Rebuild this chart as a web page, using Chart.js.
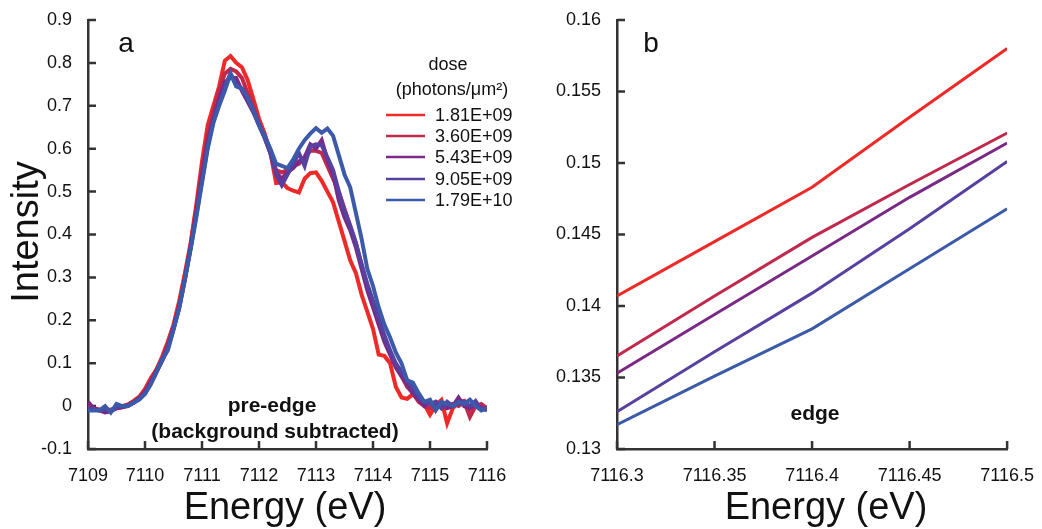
<!DOCTYPE html>
<html>
<head>
<meta charset="utf-8">
<script src="https://cdn.jsdelivr.net/npm/chart.js@4"></script>
<style>
  html, body { margin: 0; padding: 0; background: #fff; }
  #wrap { position: relative; width: 1042px; height: 529px; }
  canvas { position: absolute; top: 0; }
</style>
</head>
<body>
<div id="wrap">
  <canvas id="left" width="540" height="529" style="left:0"></canvas>
  <canvas id="right" width="502" height="529" style="left:540px"></canvas>
</div>
<script>
// legend labels and colours
const doses = ["1.81E+09", "3.60E+09", "5.43E+09", "9.05E+09", "1.79E+10"];
const colors = ["#ee2a28", "#c0284c", "#7a2a84", "#5840a0", "#3c5aaa"];

// panel a: pre-edge, energy grid (eV)
const energyA = [
  7109.0, 7109.1, 7109.2, 7109.3, 7109.4, 7109.5, 7109.6, 7109.7, 7109.8, 7109.9,
  7110.0, 7110.1, 7110.2, 7110.3, 7110.4, 7110.5, 7110.6, 7110.7, 7110.8, 7110.9,
  7111.0, 7111.1, 7111.2, 7111.3, 7111.4, 7111.5, 7111.6, 7111.7, 7111.8, 7111.9,
  7112.0, 7112.1, 7112.2, 7112.3, 7112.4, 7112.5, 7112.6, 7112.7, 7112.8, 7112.9,
  7113.0, 7113.1, 7113.2, 7113.3, 7113.4, 7113.5, 7113.6, 7113.7, 7113.8, 7113.9,
  7114.0, 7114.1, 7114.2, 7114.3, 7114.4, 7114.5, 7114.6, 7114.7, 7114.8, 7114.9,
  7115.0, 7115.1, 7115.2, 7115.3, 7115.4, 7115.5, 7115.6, 7115.7, 7115.8, 7115.9,
  7116.0
];
const pre1 = [
  0.000, -0.005, -0.008, -0.010, -0.008, -0.004, 0.000, 0.004, 0.012, 0.022,
  0.040, 0.065, 0.085, 0.115, 0.150, 0.190, 0.245, 0.310, 0.380, 0.470,
  0.570, 0.655, 0.700, 0.745, 0.805, 0.816, 0.800, 0.790, 0.760, 0.716,
  0.670, 0.635, 0.590, 0.520, 0.522, 0.508, 0.502, 0.498, 0.530, 0.543,
  0.545, 0.525, 0.500, 0.475, 0.430, 0.385, 0.340, 0.310, 0.260, 0.220,
  0.180, 0.120, 0.117, 0.100, 0.045, 0.020, 0.017, 0.028, 0.014, 0.004,
  -0.020, 0.002, 0.014, -0.040, -0.005, 0.010, 0.012, -0.010, 0.002, -0.002,
  -0.008
];
const pre2 = [
  0.000, -0.008, -0.010, -0.012, -0.010, -0.005, -0.002, 0.002, 0.010, 0.020,
  0.035, 0.060, 0.085, 0.110, 0.145, 0.185, 0.235, 0.300, 0.375, 0.460,
  0.550, 0.630, 0.685, 0.735, 0.775, 0.786, 0.780, 0.765, 0.730, 0.700,
  0.660, 0.630, 0.595, 0.550, 0.545, 0.550, 0.560, 0.565, 0.580, 0.595,
  0.595, 0.590, 0.560, 0.530, 0.500, 0.460, 0.420, 0.380, 0.330, 0.280,
  0.240, 0.200, 0.160, 0.125, 0.095, 0.070, 0.045, 0.030, 0.010, 0.000,
  -0.005, 0.010, 0.005, 0.000, 0.005, 0.000, 0.010, -0.025, 0.000, 0.005,
  -0.005
];
const pre3 = [
  0.010, -0.005, -0.010, -0.015, -0.012, -0.005, -0.003, 0.000, 0.008, 0.018,
  0.032, 0.055, 0.080, 0.105, 0.135, 0.180, 0.230, 0.295, 0.370, 0.450,
  0.535, 0.615, 0.670, 0.715, 0.755, 0.765, 0.765, 0.735, 0.710, 0.685,
  0.655, 0.625, 0.590, 0.545, 0.530, 0.545, 0.555, 0.570, 0.580, 0.610,
  0.600, 0.620, 0.575, 0.540, 0.480, 0.440, 0.410, 0.370, 0.320, 0.270,
  0.230, 0.190, 0.150, 0.120, 0.090, 0.070, 0.050, 0.030, 0.015, 0.000,
  0.010, 0.000, 0.005, -0.005, 0.000, 0.020, 0.000, -0.005, 0.005, -0.005,
  -0.010
];
const pre4 = [
  -0.005, -0.008, -0.010, -0.008, -0.012, -0.003, 0.000, 0.002, 0.008, 0.018,
  0.030, 0.052, 0.080, 0.108, 0.135, 0.180, 0.230, 0.298, 0.368, 0.445,
  0.525, 0.605, 0.665, 0.705, 0.745, 0.775, 0.750, 0.740, 0.715, 0.690,
  0.655, 0.625, 0.590, 0.540, 0.515, 0.540, 0.565, 0.590, 0.560, 0.605,
  0.610, 0.608, 0.580, 0.550, 0.500, 0.455, 0.420, 0.380, 0.330, 0.285,
  0.245, 0.205, 0.165, 0.130, 0.100, 0.080, 0.060, 0.040, 0.020, 0.010,
  0.005, 0.010, -0.005, 0.010, 0.000, 0.005, 0.010, 0.000, 0.012, -0.008,
  -0.005
];
const pre5 = [
  -0.010, -0.010, -0.010, 0.000, -0.015, 0.005, 0.000, 0.000, 0.008, 0.015,
  0.028, 0.050, 0.078, 0.108, 0.130, 0.178, 0.228, 0.295, 0.365, 0.440,
  0.520, 0.600, 0.660, 0.700, 0.735, 0.775, 0.745, 0.740, 0.720, 0.690,
  0.655, 0.630, 0.600, 0.565, 0.560, 0.555, 0.575, 0.600, 0.620, 0.635,
  0.648, 0.637, 0.647, 0.630, 0.585, 0.540, 0.510, 0.450, 0.390, 0.320,
  0.280, 0.230, 0.190, 0.160, 0.125, 0.100, 0.060, 0.055, 0.030, 0.010,
  0.015, -0.010, 0.010, 0.005, 0.000, 0.010, 0.005, 0.015, 0.000, -0.010,
  -0.005
];

// panel b: edge
const energyB = [7116.3, 7116.35, 7116.4, 7116.45, 7116.5];
const edge1 = [0.1407, 0.1445, 0.1483, 0.1532, 0.1580];
const edge2 = [0.1365, 0.1407, 0.1448, 0.1485, 0.1521];
const edge3 = [0.1353, 0.1394, 0.1435, 0.1476, 0.1514];
const edge4 = [0.1326, 0.1368, 0.1409, 0.1454, 0.1501];
const edge5 = [0.1317, 0.1351, 0.1384, 0.1426, 0.1468];

const FONT = "'Liberation Sans', Arial, Helvetica, sans-serif";
Chart.defaults.font.family = FONT;
Chart.defaults.color = "#111";

function series(xs, ys) {
  return xs.map((x, i) => ({ x: x, y: ys[i] }));
}

function makeDatasets(xs, all, width) {
  return all.map((ys, i) => ({
    label: doses[i],
    data: series(xs, ys),
    borderColor: colors[i],
    borderWidth: width,
    pointRadius: 0,
    tension: 0,
    fill: false,
    order: all.length - 1 - i   // blue drawn on top
  }));
}

// short tick marks pointing into the plot
const inwardTicks = {
  id: "inwardTicks",
  beforeDatasetsDraw(chart) {
    const { ctx, chartArea: a, scales: { x, y } } = chart;
    ctx.save();
    ctx.strokeStyle = "#333";
    ctx.lineWidth = 2.5;
    ctx.beginPath();
    x.ticks.forEach(t => {
      const px = x.getPixelForValue(t.value);
      ctx.moveTo(px, a.bottom);
      ctx.lineTo(px, a.bottom - 8);
    });
    y.ticks.forEach(t => {
      const py = y.getPixelForValue(t.value);
      ctx.moveTo(a.left, py);
      ctx.lineTo(a.left + 8, py);
    });
    ctx.stroke();
    ctx.restore();
  }
};

function axisOpts(min, max, step, fit, fmt) {
  return {
    type: "linear",
    min: min,
    max: max,
    grid: { display: false },
    border: { display: true, color: "#333", width: 2.5 },
    ticks: {
      stepSize: step,
      autoSkip: false,
      maxRotation: 0,
      padding: 8,
      color: "#111",
      font: { size: 18 },
      callback: fmt
    },
    afterFit: fit
  };
}

function drawText(ctx, txt, x, y, font, align, base) {
  ctx.font = font;
  ctx.textAlign = align || "center";
  ctx.textBaseline = base || "middle";
  ctx.fillText(txt, x, y);
}

const leftText = {
  id: "leftText",
  afterDraw(chart) {
    const ctx = chart.ctx;
    ctx.save();
    ctx.fillStyle = "#111";
    drawText(ctx, "a", 126, 52, "28px " + FONT, "center", "alphabetic");
    // legend
    drawText(ctx, "dose", 448, 70, "18px " + FONT, "center", "alphabetic");
    drawText(ctx, "(photons/\u03bcm\u00b2)", 452, 95, "18px " + FONT, "center", "alphabetic");
    const rows = [115, 136, 157, 179, 200];
    chart.data.datasets.forEach((ds, i) => {
      ctx.strokeStyle = ds.borderColor;
      ctx.lineWidth = 2.5;
      ctx.beginPath();
      ctx.moveTo(386, rows[i]);
      ctx.lineTo(425, rows[i]);
      ctx.stroke();
      drawText(ctx, ds.label, 435, rows[i] + 1, "18px " + FONT, "left", "middle");
    });
    drawText(ctx, "pre-edge", 272, 406, "bold 21px " + FONT);
    drawText(ctx, "(background subtracted)", 275, 432, "bold 21px " + FONT);
    drawText(ctx, "Energy (eV)", 285, 519, "38px " + FONT, "center", "alphabetic");
    ctx.translate(38, 232);
    ctx.rotate(-Math.PI / 2);
    drawText(ctx, "Intensity", 0, 0, "38px " + FONT, "center", "alphabetic");
    ctx.restore();
  }
};

const rightText = {
  id: "rightText",
  afterDraw(chart) {
    const ctx = chart.ctx;
    ctx.save();
    ctx.fillStyle = "#111";
    drawText(ctx, "b", 111, 52, "28px " + FONT, "center", "alphabetic");
    drawText(ctx, "edge", 275, 414, "bold 21px " + FONT);
    drawText(ctx, "Energy (eV)", 286, 519, "38px " + FONT, "center", "alphabetic");
    ctx.restore();
  }
};

new Chart(document.getElementById("left"), {
  type: "line",
  data: { datasets: makeDatasets(energyA, [pre1, pre2, pre3, pre4, pre5], 4) },
  options: {
    responsive: false,
    animation: false,
    layout: { padding: { top: 20, right: 53, left: 0, bottom: 0 } },
    plugins: { legend: { display: false }, tooltip: { enabled: false } },
    scales: {
      x: axisOpts(7109, 7116, 1, s => { s.height = 80; }, v => String(Math.round(v))),
      y: axisOpts(-0.1, 0.9, 0.1, s => { s.width = 88; }, v => String(+v.toFixed(2)))
    }
  },
  plugins: [inwardTicks, leftText]
});

new Chart(document.getElementById("right"), {
  type: "line",
  data: { datasets: makeDatasets(energyB, [edge1, edge2, edge3, edge4, edge5], 3) },
  options: {
    responsive: false,
    animation: false,
    layout: { padding: { top: 20, right: 28, left: 0, bottom: 0 } },
    plugins: { legend: { display: false }, tooltip: { enabled: false } },
    scales: {
      x: axisOpts(7116.3, 7116.5, 0.05, s => { s.height = 80; }, v => String(+v.toFixed(2))),
      y: axisOpts(0.13, 0.16, 0.005, s => { s.width = 77; }, v => String(+v.toFixed(3)))
    }
  },
  plugins: [inwardTicks, rightText]
});
</script>
</body>
</html>
